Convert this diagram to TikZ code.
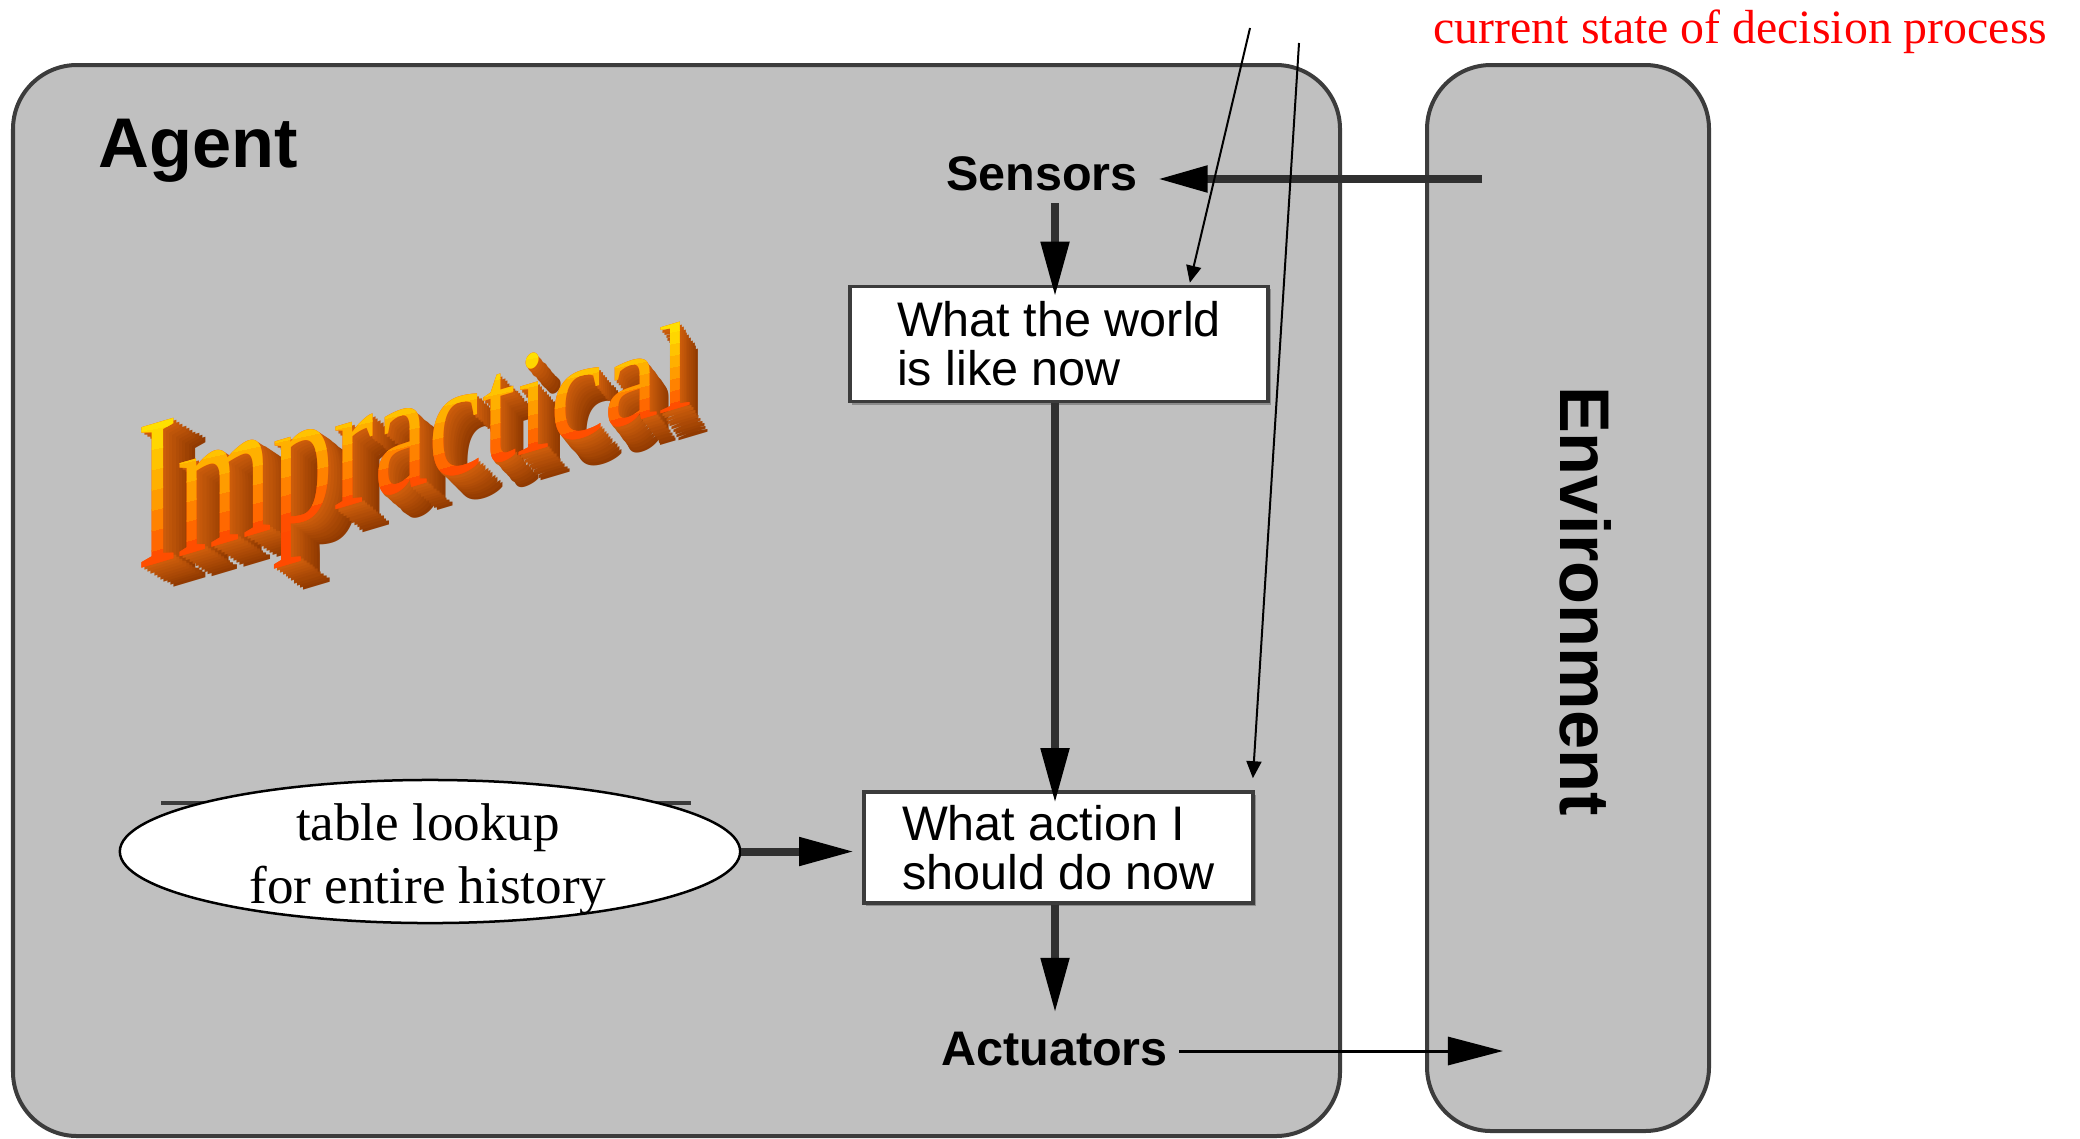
\documentclass[tikz,border=0pt]{standalone}
\usepackage{fontspec}
\setmainfont{Liberation Serif}
\newfontfamily\helv{Liberation Sans}
\newfontfamily\impfont{Liberation Serif}
\usetikzlibrary{arrows.meta,shapes.geometric,shadows}

\definecolor{panelgray}{HTML}{C0C0C0}
\definecolor{edgegray}{HTML}{3C3C3C}
\definecolor{flowgray}{HTML}{303030}
\definecolor{wordtop}{HTML}{FFE000}
\definecolor{wordmid}{HTML}{FFA000}
\definecolor{wordbot}{HTML}{FF4A00}
\definecolor{depthdark}{HTML}{8A3600}
\definecolor{depthlight}{HTML}{D2600C}

% Letters of the extruded title: base-left x, baseline y, vertical scale, glyph.
% Each pass redefines \implet to draw the letters in its own way.
\newcommand\impletters{%
  \implet{137.0}{568.8}{2.145}{I}%
  \implet{177.6}{580.8}{2.026}{m}%
  \implet{272.5}{609.0}{1.890}{p}%
  \implet{333.5}{627.1}{1.801}{r}%
  \implet{374.2}{639.2}{1.718}{a}%
  \implet{428.3}{655.3}{1.624}{c}%
  \implet{482.5}{671.4}{1.547}{t}%
  \implet{516.4}{681.4}{1.487}{i}%
  \implet{550.3}{691.5}{1.410}{c}%
  \implet{604.5}{707.6}{1.316}{a}%
  \implet{658.7}{723.7}{1.239}{l}%
}
\newcommand\implet[4]{}

\begin{document}
\begin{tikzpicture}[x=0.01cm,y=0.01cm,
  panel/.style={draw=edgegray, fill=panelgray, line width=0.04cm, rounded corners=0.64cm},
  stepbox/.style={draw=edgegray, fill=white, line width=0.035cm, inner sep=0pt, align=left,
    font=\helv\fontsize{13.8}{13.9}\selectfont,
    drop shadow={shadow xshift=0.025cm, shadow yshift=-0.03cm, fill=black!45, opacity=1}},
  sigtext/.style={font=\helv\bfseries\fontsize{13.8}{16}\selectfont, anchor=base},
  headtext/.style={font=\helv\bfseries\fontsize{20}{24}\selectfont, inner sep=0pt},
  flow/.style={draw=flowgray, line width=0.08cm, -{Triangle[length=0.55cm,width=0.27cm,color=black]}},
  thinflow/.style={draw=black, line width=0.03cm, -{Triangle[length=0.55cm,width=0.28cm]}},
  pointer/.style={draw=black, line width=0.02cm, -{Triangle[length=0.17cm,width=0.15cm]}},
  implet/.style={anchor=base west, inner sep=0pt, outer sep=0pt,
    font=\impfont\fontsize{28.45}{30}\selectfont, yslant=0.297, xscale=1.22}]

\useasboundingbox (0,0) rectangle (2080,1138);

% the two panels
\draw[panel] (13,2) rectangle (1340,1073);
\draw[panel] (1427,7) rectangle (1709,1073);

% extruded title: depth first, then the front faces with a vertical gradient
\renewcommand\implet[4]{%
  \pgfmathsetmacro\impdx{(32-0.028*(#1-157))/10}%
  \pgfmathsetmacro\impdy{(20+0.014*(#1-157))/10}%
  \foreach \s in {10,9,...,1}{%
    \pgfmathtruncatemacro\impmix{100-9*\s}%
    \node[implet, text=depthlight!\impmix!depthdark, yscale=#3] at ({#1+\impdx*\s},{#2-\impdy*\s}) {#4};
  }%
}
\impletters
\renewcommand\implet[4]{\node[implet, text=wordbot, yscale=#3] at (#1,#2) {#4};}
\impletters
\renewcommand\implet[4]{\node[implet, text=bandcol, yscale=#3] at (#1,#2) {#4};}
\foreach \k in {0,...,15}{%
  \pgfmathsetmacro\fa{-0.45+0.135*\k}%
  \pgfmathsetmacro\fb{\fa+0.145}%
  \pgfmathtruncatemacro\pa{max(0,min(100,100*(\fa+0.07)/0.45))}%
  \pgfmathtruncatemacro\pb{max(0,min(100,100*(\fa+0.07-0.45)/0.45))}%
  \colorlet{bandlo}{wordmid!\pa!wordbot}%
  \colorlet{bandcol}{wordtop!\pb!bandlo}%
  \begin{scope}
    \clip (100,{557.8+157.2*\fa}) -- (720,{741.9+81.3*\fa}) -- (720,{741.9+81.3*\fb}) -- (100,{557.8+157.2*\fb}) -- cycle;
    \impletters
  \end{scope}
}

% edge of the rules box showing above the ellipse
\draw[edgegray, line width=0.035cm] (161,335) -- (691,335);

% nodes
\node[draw=black, fill=white, ellipse, line width=0.025cm, minimum width=6.2cm, minimum height=1.43cm, inner sep=0pt] (lookup) at (430,286.5) {};
\node[font=\rmfamily\fontsize{15.1}{17.9}\selectfont, align=center, inner sep=0pt] (lookuptext) at (428,278.7) {table lookup\\for entire history};

\node[stepbox, minimum width=4.18cm, minimum height=1.15cm] (world) at (1059,794) {What the world\\is like now};
\node[stepbox, minimum width=3.89cm, minimum height=1.11cm] (action) at (1058.5,290.5) {What action I\\should do now};

\node[sigtext, inner xsep=0.19cm, inner ysep=0.12cm] (sensors) at (1042,948) {Sensors};
\node[sigtext, inner xsep=0.11cm, inner ysep=0.18cm] (actuators) at (1054.5,73) {Actuators};

\node[headtext, anchor=base west] (agentlabel) at (98,971) {Agent};
\node[headtext, rotate=-90] (envlabel) at (1586,537) {Environment};

\node[anchor=base west, inner sep=0pt, text=red, font=\rmfamily\fontsize{13.6}{16}\selectfont] (mdp) at (1433,1095) {current state of decision process};

% connectors
\coordinate (spine) at (1055,0);
\coordinate (envin) at (1482,959);
\coordinate (envout) at (1503,87);
\draw[flow, -{Triangle[length=0.5cm,width=0.25cm,color=black]}] (envin) -- (envin -| sensors.east);
\draw[flow, shorten >=-0.12cm] (sensors.south -| spine) -- (world.north -| spine);
\draw[flow, shorten >=-0.13cm] (world.south -| spine) -- (action.north -| spine);
\draw[flow] (action.south -| spine) -- (actuators.north -| spine);
\draw[flow, shorten >=0.08cm] (lookup.east) -- (lookup.east -| action.west);
\draw[thinflow] (actuators.east |- envout) -- (envout);

% callout lines
\coordinate (callout1) at (1250,1110);
\coordinate (callout2) at (1299,1095);
\coordinate (worldmark) at ([xshift=-0.8cm,yshift=0.02cm]world.north east);
\coordinate (actionmark) at ([xshift=-0.02cm,yshift=0.12cm]action.north east);
\draw[pointer] (callout1) -- (worldmark);
\draw[pointer] (callout2) -- (actionmark);

\end{tikzpicture}
\end{document}
